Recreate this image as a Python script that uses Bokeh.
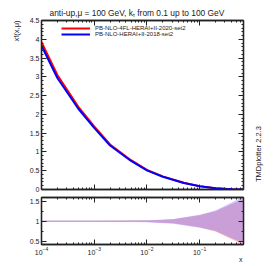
import numpy as np
from bokeh.plotting import figure
from bokeh.models import (Range1d, LogAxis, LinearAxis, Legend, LegendItem, Title,
                          LogTicker, SingleIntervalTicker, FixedTicker, CustomJSTickFormatter)
from bokeh.layouts import column
from bokeh.embed import file_html
from bokeh.resources import INLINE

# ---------------- data ----------------
x_vals = [1e-4, 2e-4, 5e-4, 1e-3, 2e-3, 5e-3, 1e-2, 2e-2, 5e-2, 1e-1, 2e-1, 4e-1, 0.68]
red_vals = [3.92, 3.05, 2.20, 1.68, 1.20, 0.78, 0.52, 0.35, 0.18, 0.09, 0.035, 0.008, 0.0]
blue_vals = [3.83, 2.97, 2.15, 1.64, 1.17, 0.76, 0.51, 0.34, 0.175, 0.088, 0.034, 0.008, 0.0]

ratio_x = [1e-4, 3.2e-4, 1e-3, 3.2e-3, 1e-2, 3.2e-2, 0.1, 0.2, 0.32, 0.5, 0.68]
ratio_center = [1, 1, 1, 1, 1, 1, 1, 1, 1, 1, 1]
red_up = [1.008, 1.008, 1.008, 1.012, 1.02, 1.05, 1.15, 1.25, 1.37, 1.47, 1.55]
red_lo = [0.992, 0.992, 0.992, 0.988, 0.98, 0.95, 0.85, 0.75, 0.62, 0.50, 0.38]
blue_up = [1.008, 1.008, 1.008, 1.012, 1.022, 1.06, 1.16, 1.27, 1.40, 1.52, 1.62]
blue_lo = [0.992, 0.992, 0.992, 0.988, 0.976, 0.94, 0.84, 0.76, 0.64, 0.53, 0.47]

labels = ["PB-NLO-4FL-HERAI+II-2020-set2", "PB-NLO-HERAI+II-2018-set2"]
title_text = "anti-up,\u03bc = 100 GeV, k\u209c from 0.1 up to 100 GeV"
ylabel = "xf(x,\u03bc)"
xlabel = "x"
xlabel_pos = 0.6        # x position of the "x" axis title
stamp = "TMDplotter 2.2.3"
stamp_y = 0.2           # vertical start of the stamp on the y scale

# ---------------- layout constants ----------------
FONT = "Liberation Sans"
INK = "#222222"
XMIN, XMAX = 1e-4, 0.68
Y1 = (0.0, 4.5)
Y2 = (0.425, 1.59)
W = 273
ML, MR = 41, 30

xr = Range1d(XMIN, XMAX)
blank = CustomJSTickFormatter(code="return ''")


def style(ax, show_labels=True):
    ax.axis_line_color = INK
    ax.axis_line_width = 1.3
    ax.major_tick_in = 5
    ax.major_tick_out = 0
    ax.minor_tick_in = 2
    ax.minor_tick_out = 0
    ax.major_tick_line_color = INK
    ax.minor_tick_line_color = INK
    ax.major_label_text_font = FONT
    ax.major_label_text_color = INK
    ax.major_label_text_font_size = "7px"
    if show_labels:
        ax.major_label_standoff = 2
    else:
        ax.formatter = blank
        ax.major_label_standoff = 0


def text_axis(cls, value, text, standoff, orientation="horizontal", size="7px"):
    return cls(ticker=FixedTicker(ticks=[value]),
               formatter=CustomJSTickFormatter(args=dict(s=text), code="return s"),
               axis_line_color=None, major_tick_line_color=None,
               minor_tick_line_color=None, major_label_standoff=standoff,
               major_label_orientation=orientation,
               major_label_text_font=FONT, major_label_text_font_size=size,
               major_label_text_color=INK)


# ---------------- top panel ----------------
p = figure(width=W, height=193, x_axis_type="log", x_range=xr,
           y_range=Range1d(*Y1), output_backend="svg", toolbar_location=None,
           min_border_left=ML, min_border_right=MR,
           min_border_top=20, min_border_bottom=4)
p.grid.visible = False
p.outline_line_color = INK
p.outline_line_width = 1.3
p.xaxis.ticker = LogTicker(num_minor_ticks=10)
p.yaxis.ticker = SingleIntervalTicker(interval=0.5, num_minor_ticks=5)
style(p.xaxis[0], show_labels=False)
style(p.yaxis[0])
ax_top = LogAxis(ticker=LogTicker(num_minor_ticks=10))
style(ax_top, show_labels=False)
p.add_layout(ax_top, "above")
ax_right = LinearAxis(ticker=SingleIntervalTicker(interval=0.5, num_minor_ticks=5))
style(ax_right, show_labels=False)
p.add_layout(ax_right, "right")

# vertical stamp on the right side
p.add_layout(text_axis(LinearAxis, stamp_y, stamp, 9, np.pi / 2, "7.5px"), "right")

p.add_layout(Title(text=title_text, align="left", offset=8, standoff=6,
                   text_font=FONT, text_font_size="8.4px", text_font_style="normal",
                   text_color=INK), "above")
p.add_layout(Title(text=ylabel, align="right", offset=0, standoff=11,
                   text_font=FONT, text_font_size="7.5px", text_font_style="normal",
                   text_color=INK), "left")

r1 = p.line(x_vals, red_vals, line_color="#ff0000", line_width=2)
r2 = p.line(x_vals, blue_vals, line_color="#0000ff", line_width=2)

leg = Legend(items=[LegendItem(label=labels[0], renderers=[r1]),
                    LegendItem(label=labels[1], renderers=[r2])],
             location=(20, 152), padding=0, margin=0, spacing=0,
             glyph_width=29, glyph_height=6, label_height=6, label_standoff=5,
             label_text_font=FONT, label_text_font_size="6px",
             label_text_color=INK,
             border_line_alpha=0, background_fill_alpha=0)
p.add_layout(leg)

# ---------------- ratio panel ----------------
q = figure(width=W, height=73, x_axis_type="log", x_range=xr,
           y_range=Range1d(*Y2), output_backend="svg", toolbar_location=None,
           min_border_left=ML, min_border_right=MR,
           min_border_top=4, min_border_bottom=22)
q.grid.visible = False
q.outline_line_color = INK
q.outline_line_width = 1.3
q.xaxis.ticker = LogTicker(num_minor_ticks=10)
q.yaxis.ticker = SingleIntervalTicker(interval=0.5, num_minor_ticks=2)
style(q.xaxis[0])
style(q.yaxis[0])
q.xaxis[0].major_label_standoff = 2
q.add_layout(text_axis(LogAxis, xlabel_pos, xlabel, -8), "below")
qa_top = LogAxis(ticker=LogTicker(num_minor_ticks=10))
style(qa_top, show_labels=False)
q.add_layout(qa_top, "above")
qa_right = LinearAxis(ticker=SingleIntervalTicker(interval=0.5, num_minor_ticks=2))
style(qa_right, show_labels=False)
q.add_layout(qa_right, "right")

q.varea(x=ratio_x, y1=red_lo, y2=red_up, fill_color="#ff6a5a", fill_alpha=0.4)
q.varea(x=ratio_x, y1=blue_lo, y2=blue_up, fill_color="#7a6aff", fill_alpha=0.4)
q.line(ratio_x, ratio_center, line_color="#c8a0dc", line_width=1.5)

layout = column(p, q)
open("out.html", "w").write(file_html(layout, INLINE))
